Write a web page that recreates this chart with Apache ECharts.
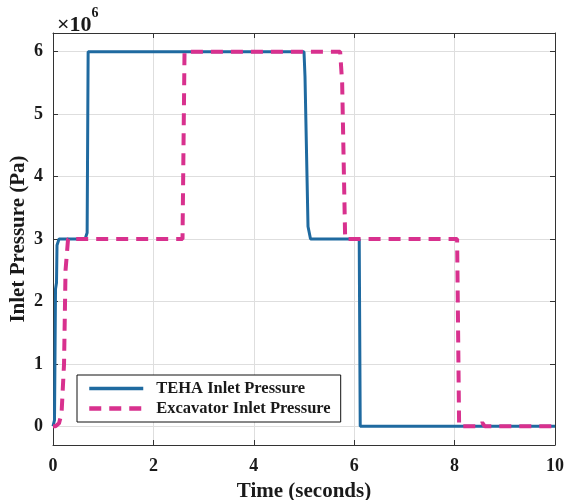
<!DOCTYPE html>
<html><head><meta charset="utf-8">
<script src="https://cdn.jsdelivr.net/npm/echarts@6/dist/echarts.min.js"></script>
<style>html,body{margin:0;padding:0;background:#fff}#c{width:567px;height:500px}</style>
</head><body><div id="c"></div>
<script>
// Values in units of 10^6 Pa
const tehaTime =     [0, 0.03, 0.05, 0.07, 0.08, 0.12, 0.64, 0.68, 0.70, 5.00, 5.02, 5.08, 5.13, 6.10, 6.12, 10];
const tehaPressure = [0, 0.1,  2.2,  2.3,  2.9,  3.0,  3.0,  3.1,  6.0,  6.0,  5.6,  3.2,  3.0,  3.0,  0.0,  0];
const excTime =      [0, 0.05, 0.12, 0.17, 0.22, 0.25, 0.30, 2.58, 2.62, 5.72, 5.76, 5.82, 8.05, 8.09, 8.50, 8.55, 8.60, 10];
const excPressure =  [0, 0.0,  0.05, 0.2,  1.0,  2.5,  3.0,  3.0,  6.0,  6.0,  5.5,  3.0,  3.0,  0.0,  0.0,  0.06, 0.0,  0];
const xTicks = [0, 2, 4, 6, 8, 10];
const yTicks = [0, 1, 2, 3, 4, 5, 6];
const seriesNames = ['TEHA Inlet Pressure', 'Excavator Inlet Pressure'];

const pair = (xs, ys) => xs.map((x, i) => [x, ys[i]]);
const font = '"Liberation Serif", "DejaVu Serif", serif';
const axisColor = '#333';
const textColor = '#1a1a1a';
const blue = '#1f6aa0', pink = '#d8318e';
const chart = echarts.init(document.getElementById('c'));
chart.setOption({
  animation: false,
  backgroundColor: '#fff',
  grid: {left: 53, right: 12, top: 33, bottom: 55, containLabel: false, outerBoundsMode: 'none'},
  title: {
    text: '{a|×10}{b|6}', left: 52, top: 1,
    textStyle: {rich: {
      a: {fontFamily: font, fontSize: 22, color: textColor, verticalAlign: 'bottom', padding: [8,0,0,0]},
      b: {fontFamily: font, fontSize: 14, color: textColor, verticalAlign: 'top'}
    }}
  },
  legend: {
    left: 77, top: 375, orient: 'vertical',
    itemWidth: 54, itemHeight: 14, itemGap: 3,
    padding: [5, 10, 5, 10],
    borderColor: '#111', borderWidth: 1, backgroundColor: '#fff',
    itemStyle: {opacity: 0},
    textStyle: {fontFamily: font, fontWeight: 'bold', fontSize: 16.5, color: textColor, padding: [0, 0, 0, 8]},
    data: [
      {name: seriesNames[0], lineStyle: {width: 3.5, color: blue}},
      {name: seriesNames[1], lineStyle: {width: 4.5, color: pink, type: [12, 8]}}
    ]
  },
  xAxis: [{
    type: 'value', min: 0, max: 10, interval: 2, position: 'bottom',
    name: 'Time (seconds)', nameLocation: 'middle', nameGap: 36, nameMoveOverlap: false,
    nameTextStyle: {fontFamily: font, fontWeight: 'bold', fontSize: 21, color: textColor},
    axisLine: {show: true, onZero: false, lineStyle: {color: axisColor, width: 1}},
    axisTick: {show: true, inside: true, length: 5, lineStyle: {color: axisColor}},
    axisLabel: {fontFamily: font, fontWeight: 'bold', fontSize: 18, color: textColor, margin: 12, customValues: xTicks},
    splitLine: {show: true, lineStyle: {color: '#dedede', width: 1}}
  }, {
    type: 'value', min: 0, max: 10, interval: 2, position: 'top',
    axisLine: {show: true, onZero: false, lineStyle: {color: axisColor, width: 1}},
    axisTick: {show: true, inside: true, length: 5, lineStyle: {color: axisColor}},
    axisLabel: {show: false}, splitLine: {show: false}
  }],
  yAxis: [{
    type: 'value', min: -0.3, max: 6.3, position: 'left',
    name: 'Inlet Pressure (Pa)', nameLocation: 'middle', nameGap: 24, nameMoveOverlap: false,
    nameTextStyle: {fontFamily: font, fontWeight: 'bold', fontSize: 21, color: textColor},
    axisLine: {show: true, onZero: false, lineStyle: {color: axisColor, width: 1}},
    axisTick: {show: true, inside: true, length: 5, customValues: yTicks, lineStyle: {color: axisColor}},
    axisLabel: {fontFamily: font, fontWeight: 'bold', fontSize: 18, color: textColor, margin: 10, customValues: yTicks},
    splitLine: {show: true, lineStyle: {color: '#dedede', width: 1}}
  }, {
    type: 'value', min: -0.3, max: 6.3, position: 'right',
    axisLine: {show: true, onZero: false, lineStyle: {color: axisColor, width: 1}},
    axisTick: {show: true, inside: true, length: 5, customValues: yTicks, lineStyle: {color: axisColor}},
    axisLabel: {show: false}, splitLine: {show: false}
  }],
  series: [{
    name: seriesNames[0], type: 'line', xAxisIndex: 0, yAxisIndex: 0,
    data: pair(tehaTime, tehaPressure), showSymbol: false, symbol: 'none',
    color: blue, lineStyle: {color: blue, width: 3}, z: 2
  }, {
    name: seriesNames[1], type: 'line', xAxisIndex: 0, yAxisIndex: 0,
    data: pair(excTime, excPressure), showSymbol: false, symbol: 'none',
    color: pink, lineStyle: {color: pink, width: 4, type: [12, 8]}, z: 3
  }]
});
</script></body></html>
